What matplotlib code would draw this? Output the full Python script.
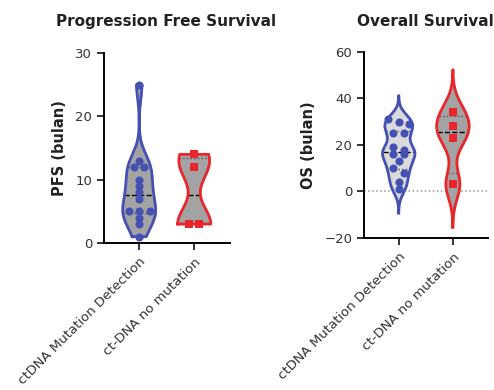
import numpy as np
import matplotlib
matplotlib.use("Agg")
import matplotlib.pyplot as plt

# data (months)
groups = ["ctDNA Mutation Detection", "ct-DNA no mutation"]
pfs_mut = [25, 13, 12, 12, 10, 9, 8, 7, 5, 5, 5, 4, 3, 1]
pfs_nomut = [14, 12, 3, 3]
os_mut = [30, 31, 29, 25, 25, 19, 16, 16, 18, 13, 10, 8, 4, 1]
os_nomut = [34, 28, 23, 3]

BLUE = "#4451b3"
RED = "#e8262c"
GRAY = "#a3a3a3"
LIGHT = "#dadada"

plt.rcParams["font.family"] = "DejaVu Sans"

fig = plt.figure(figsize=(4.94, 3.9), dpi=100)
ax1 = fig.add_axes([0.2105, 0.377, 0.255, 0.487])
ax2 = fig.add_axes([0.737, 0.390, 0.251, 0.477])


def kde(vals, grid, bw):
    vals = np.asarray(vals, float)
    d = np.exp(-0.5 * ((grid[:, None] - vals[None, :]) / bw) ** 2)
    return d.sum(axis=1)


def violin(ax, x, vals, edge, fill, truncate, half=0.3, adj=0.6):
    vals = np.asarray(vals, float)
    bw = adj * vals.std(ddof=1) * len(vals) ** (-0.2)
    if truncate:
        lo, hi = vals.min(), vals.max()
    else:
        lo, hi = vals.min() - 3 * bw, vals.max() + 3 * bw
    grid = np.linspace(lo, hi, 300)
    dens = kde(vals, grid, bw)
    w = dens / dens.max() * half
    ax.fill_betweenx(grid, x - w, x + w, color=fill, zorder=1)
    ax.plot(np.r_[x - w, (x + w)[::-1], x - w[0]], np.r_[grid, grid[::-1], grid[0]],
            color=edge, lw=2.0, zorder=3, solid_joinstyle="round")
    q1, med, q3 = np.percentile(vals, [25, 50, 75], method="weibull")
    for q, ls, c in [(q1, ":", "#555555"), (q3, ":", "#555555"), (med, "--", "black")]:
        hw = np.interp(q, grid, w)
        ax.plot([x - hw, x + hw], [q, q], ls=ls, color=c, lw=1.0, zorder=2)


def swarm(ax, x, vals, color, marker, size):
    # spread points that sit on (nearly) the same level
    vals = np.asarray(vals, float)
    pxy = ax.bbox.height / np.ptp(ax.get_ylim())
    pxx = ax.bbox.width / np.ptp(ax.get_xlim())
    tol, step = 5.0, 10.5
    order = np.argsort(-vals, kind="stable")
    xs = np.full(len(vals), float(x))
    i = 0
    while i < len(order):
        grp = [order[i]]
        j = i + 1
        while j < len(order) and (vals[order[i]] - vals[order[j]]) * pxy <= tol:
            grp.append(order[j])
            j += 1
        n = len(grp)
        for k, idx in enumerate(grp):
            xs[idx] = x + (k - (n - 1) / 2) * step / pxx
        i = j
    ax.scatter(xs, vals, s=size, color=color, marker=marker, zorder=4, linewidths=0)


def style(ax, ylim, ticks, ylabel):
    ax.set_xlim(-0.64, 1.65)
    ax.set_ylim(*ylim)
    ax.set_yticks(ticks)
    ax.set_xticks([0, 1])
    ax.set_xticklabels(groups, rotation=45, ha="right", rotation_mode="anchor",
                       fontsize=9, color="#333333")
    ax.spines[["top", "right"]].set_visible(False)
    for s in ["left", "bottom"]:
        ax.spines[s].set_linewidth(1.4)
    ax.tick_params(axis="both", width=1.4, length=5, labelsize=9.5, colors="#333333")
    ax.tick_params(axis="x", pad=4)
    ax.set_ylabel(ylabel, fontsize=10.5, fontweight="bold", color="#222222", labelpad=6)
    ax.patch.set_alpha(0)


style(ax1, (0, 30), [0, 10, 20, 30], "PFS (bulan)")
style(ax2, (-20, 60), [-20, 0, 20, 40, 60], "OS (bulan)")

ax2.axhline(0, color="#999999", ls=":", lw=1.1, zorder=0)

violin(ax1, 0, pfs_mut, BLUE, GRAY, truncate=True)
violin(ax1, 1, pfs_nomut, RED, GRAY, truncate=True)
violin(ax2, 0, os_mut, BLUE, LIGHT, truncate=False)
violin(ax2, 1, os_nomut, RED, GRAY, truncate=False)

swarm(ax1, 0, pfs_mut, BLUE, "o", 34)
swarm(ax1, 1, pfs_nomut, RED, "s", 36)
swarm(ax2, 0, os_mut, BLUE, "o", 34)
swarm(ax2, 1, os_nomut, RED, "s", 36)

fig.text(0.336, 0.946, "Progression Free Survival", ha="center", va="center",
         fontsize=11, fontweight="bold", color="#222222")
fig.text(0.861, 0.946, "Overall Survival", ha="center", va="center",
         fontsize=11, fontweight="bold", color="#222222")

fig.savefig("out.png", dpi=100)
